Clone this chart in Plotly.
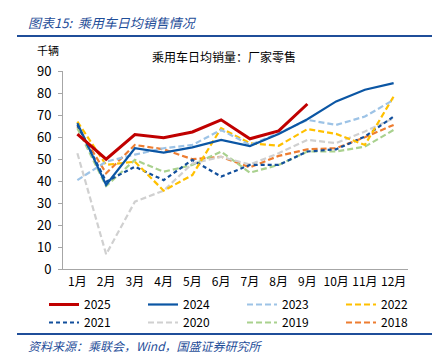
import plotly.graph_objects as go

months = ["1月", "2月", "3月", "4月", "5月", "6月", "7月", "8月", "9月", "10月", "11月", "12月"]

s2025 = [61.3, 49.9, 61.1, 59.7, 62.3, 67.8, 59.2, 62.8, 75.0]
s2024 = [66.3, 38.2, 54.9, 52.9, 55.3, 58.7, 55.9, 61.4, 68.1, 76.2, 81.5, 84.5]
s2023 = [40.4, 48.8, 52.0, 54.9, 56.4, 63.2, 56.4, 61.7, 67.8, 65.5, 69.3, 76.9]
s2022 = [67.0, 47.3, 48.8, 35.6, 42.7, 64.0, 57.2, 56.0, 63.6, 61.4, 56.4, 78.4]
s2021 = [65.5, 39.7, 46.5, 40.4, 49.6, 42.0, 47.3, 47.3, 53.4, 54.4, 60.2, 69.3]
s2020 = [52.6, 6.7, 30.6, 35.6, 48.0, 51.0, 47.5, 52.6, 58.7, 57.2, 62.5, 68.5]
s2019 = [64.0, 37.7, 49.6, 44.2, 47.3, 53.4, 43.8, 47.3, 53.4, 53.4, 55.6, 63.2]
s2018 = [64.8, 43.5, 56.4, 54.4, 49.9, 51.0, 46.2, 51.4, 54.4, 54.9, 59.9, 65.5]

series = [
    ("2025", s2025, "#C00000", "solid", 3, "legend"),
    ("2024", s2024, "#0B56A4", "solid", 2.2, "legend"),
    ("2023", s2023, "#9DC3E6", "6px,3px", 2.2, "legend"),
    ("2022", s2022, "#FFC000", "6px,3px", 2.2, "legend"),
    ("2021", s2021, "#124F9C", "4px,3px", 2.2, "legend2"),
    ("2020", s2020, "#D0D0D0", "6px,3px", 2.2, "legend2"),
    ("2019", s2019, "#A9D18E", "6px,3px", 2.2, "legend2"),
    ("2018", s2018, "#ED7D31", "6px,3px", 2.2, "legend2"),
]

fig = go.Figure()
# draw older first so 2025 sits on top
for name, vals, color, dash, width, lg in reversed(series):
    fig.add_trace(go.Scatter(
        x=months[:len(vals)], y=vals, name=name, mode="lines",
        line=dict(color=color, dash=dash, width=width),
        legend=lg,
    ))

L, R, T, B = 63, 33, 71, 91
W, H = 441, 360
pw, ph = W - L - R, H - T - B

def px(x):
    return (x - L) / pw

def py(y):
    return (H - B - y) / ph

font_cjk = "Noto Sans CJK SC, Microsoft YaHei, sans-serif"

legend_common = dict(
    orientation="h", xanchor="left", yanchor="top",
    entrywidth=54, entrywidthmode="pixels", traceorder="reversed",
    font=dict(size=12), bgcolor="rgba(0,0,0,0)", itemclick=False,
)

fig.update_layout(
    width=W, height=H,
    margin=dict(l=L, r=R, t=T, b=B, autoexpand=False),
    paper_bgcolor="white", plot_bgcolor="white",
    font=dict(family=font_cjk, size=12, color="#000000"),
    xaxis=dict(
        type="category", categoryorder="array", categoryarray=months,
        range=[-0.5, 11.5], showline=True, linecolor="#A6A6A6", linewidth=1,
        ticks="", showgrid=False, zeroline=False, ticklabelstandoff=2,
        tickfont=dict(size=12, color="#000000"),
    ),
    yaxis=dict(
        range=[0, 90], dtick=10, showline=True, linecolor="#A6A6A6", linewidth=1,
        ticks="outside", ticklen=4, tickcolor="#A6A6A6", showgrid=False, zeroline=False,
        ticklabelstandoff=4,
        tickfont=dict(size=13, color="#000000"),
    ),
    legend=dict(x=px(44), y=py(290), **legend_common),
    legend2=dict(x=px(44), y=py(308), **legend_common),
    showlegend=True,
)

fig.add_annotation(text="<i>图表15:  乘用车日均销售情况</i>", x=px(26), y=py(22),
                   xref="paper", yref="paper", xanchor="left", yanchor="middle",
                   showarrow=False, font=dict(size=13, color="#1F4E99", family=font_cjk))
fig.add_annotation(text="千辆", x=px(35), y=py(50), xref="paper", yref="paper",
                   xanchor="left", yanchor="middle", showarrow=False,
                   font=dict(size=11, color="#000000", family=font_cjk))
fig.add_annotation(text="乘用车日均销量：厂家零售", x=px(224), y=py(56), xref="paper", yref="paper",
                   xanchor="center", yanchor="middle", showarrow=False,
                   font=dict(size=12, color="#000000", family=font_cjk))
fig.add_annotation(text="<i>资料来源：乘联会，Wind，国盛证券研究所</i>", x=px(26), y=py(345),
                   xref="paper", yref="paper", xanchor="left", yanchor="middle",
                   showarrow=False, font=dict(size=12, color="#1F4E99", family=font_cjk))

fig.add_shape(type="line", xref="paper", yref="paper", x0=px(17), x1=px(432),
              y0=py(36), y1=py(36), line=dict(color="#1F4E99", width=2))
fig.add_shape(type="line", xref="paper", yref="paper", x0=px(17), x1=px(432),
              y0=py(334), y1=py(334), line=dict(color="#1F4E99", width=2))

fig.write_html("out.html", config={"displayModeBar": False},
               post_script="document.body.style.margin='0';")
